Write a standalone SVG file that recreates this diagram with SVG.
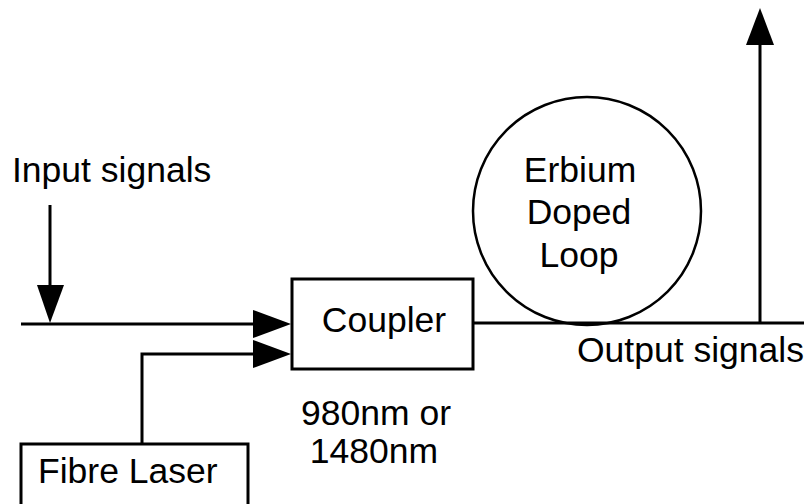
<svg xmlns="http://www.w3.org/2000/svg" width="811" height="504" viewBox="0 0 811 504">
<style>
.ln{stroke:#000;stroke-width:3;fill:none}
.bx{stroke:#000;stroke-width:3;fill:#fff}
.ah{fill:#000}
text{font-family:"Liberation Sans",Arial,sans-serif;font-size:35.5px;fill:#000}
</style>
<rect width="811" height="504" fill="#fff"/>
<g id="connectors">
<line class="ln" x1="50" y1="205" x2="50" y2="295"/>
<polygon class="ah" points="37,285 64,285 50,323"/>
<line class="ln" x1="21" y1="324" x2="260" y2="324"/>
<polygon class="ah" points="253,310 253,338 291,324"/>
<polyline class="ln" points="142,444 142,354 260,354"/>
<polygon class="ah" points="253,340 253,368 291,354"/>
<line class="ln" x1="473" y1="323" x2="804" y2="323"/>
<line class="ln" x1="760" y1="323" x2="760" y2="40"/>
<polygon class="ah" points="746,45 774,45 760,8"/>
</g>
<g id="input-label"><text x="12" y="182">Input signals</text></g>
<g id="coupler">
<rect class="bx" x="292" y="279" width="181" height="90"/>
<text x="384" y="332" text-anchor="middle">Coupler</text>
</g>
<g id="loop">
<circle cx="587" cy="211" r="114" stroke="#000" stroke-width="2.5" fill="none"/>
<text x="580" y="182" text-anchor="middle">Erbium</text>
<text x="579" y="224" text-anchor="middle">Doped</text>
<text x="579" y="267" text-anchor="middle">Loop</text>
</g>
<g id="output-label"><text x="577" y="362">Output signals</text></g>
<g id="wavelength">
<text x="376" y="425" text-anchor="middle">980nm or</text>
<text x="374" y="463" text-anchor="middle">1480nm</text>
</g>
<g id="laser">
<rect class="bx" x="21" y="444" width="227" height="70"/>
<text x="38" y="483">Fibre Laser</text>
</g>
</svg>
